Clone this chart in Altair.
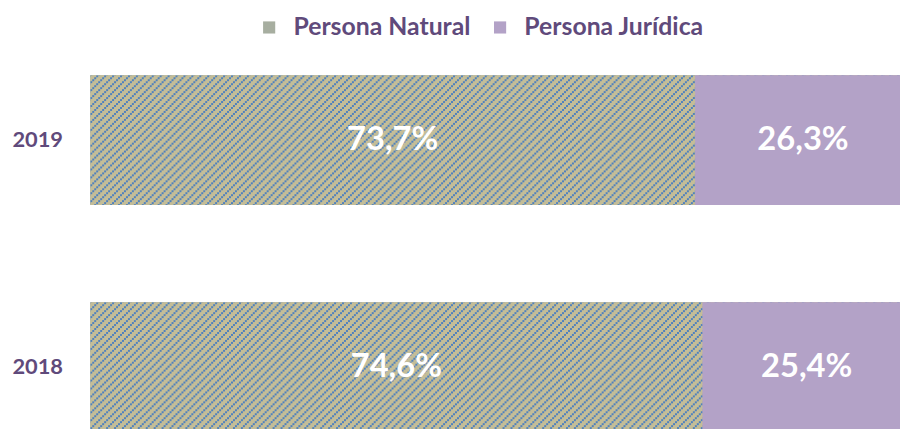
import base64
import altair as alt
import pandas as pd

years = ["2019", "2018"]
categories = ["Persona Natural", "Persona Jurídica"]
natural = [73.7, 74.6]
juridica = [26.3, 25.4]
natural_labels = ["73,7%", "74,6%"]
juridica_labels = ["26,3%", "25,4%"]

TAN = "#C4BD97"
BLUE = "#4F81BD"
MIX = "#A7AEA0"
PURPLE = "#B3A2C7"
TEXT = "#604A7B"
FONT = "Lato"

rows = []
for y, n, j, nl, jl in zip(years, natural, juridica, natural_labels, juridica_labels):
    rows.append(dict(year=y, tipo=categories[0], start=0.0, end=n, total=n + j, mid=n / 2, label=nl))
    rows.append(dict(year=y, tipo=categories[1], start=n, end=n + j, total=n + j, mid=n + j / 2, label=jl))
df = pd.DataFrame(rows)

# diagonal hatch texture (styling only) as an SVG pattern image
TILE, CELL = 8, 2
cells = "".join(
    f'<rect x="{(TILE - CELL) - i * CELL}" y="{i * CELL}" width="{CELL}" height="{CELL}" fill="{BLUE}"/>'
    for i in range(TILE // CELL)
)
pattern_svg = (
    '<svg xmlns="http://www.w3.org/2000/svg" width="828" height="131" shape-rendering="crispEdges">'
    f'<defs><pattern id="h" width="{TILE}" height="{TILE}" patternUnits="userSpaceOnUse">'
    f'<rect width="{TILE}" height="{TILE}" fill="{TAN}"/>' + cells +
    '</pattern></defs><rect width="828" height="131" fill="url(#h)"/></svg>'
)
hatch_url = "data:image/svg+xml;base64," + base64.b64encode(pattern_svg.encode()).decode()

yenc = alt.Y(
    "year:N",
    sort=years,
    scale=alt.Scale(range=[66, 426], paddingInner=98 / 229, paddingOuter=0),
    axis=alt.Axis(
        title=None, domain=False, ticks=False, grid=False, labelPadding=28,
        labelFont=FONT, labelFontSize=22, labelFontWeight="bold", labelColor=TEXT,
    ),
)
xscale = alt.Scale(domain=[0, 100], range=[0, 828])

base = alt.Chart(df).mark_bar().encode(
    y=yenc,
    x=alt.X("start:Q", scale=xscale, axis=None),
    x2="end:Q",
    color=alt.Color(
        "tipo:N",
        scale=alt.Scale(domain=categories, range=[MIX, PURPLE]),
        legend=alt.Legend(
            title=None, orient="none", legendX=168, legendY=5, direction="horizontal",
            labelFont=FONT, labelFontSize=25, labelFontWeight="bold", labelColor=TEXT,
            labelLimit=400, symbolType="square", symbolSize=150, symbolStrokeWidth=0,
            columnPadding=17, labelOffset=12,
        ),
    ),
)

hatched = alt.Chart(df).transform_filter(
    alt.datum.tipo == categories[0]
).mark_image(url=hatch_url, aspect=False).encode(
    y=yenc,
    x=alt.X("start:Q", scale=xscale, axis=None),
    x2="total:Q",
)

juridica_bars = alt.Chart(df).transform_filter(
    alt.datum.tipo == categories[1]
).mark_bar(color=PURPLE).encode(
    y=yenc,
    x=alt.X("start:Q", scale=xscale, axis=None),
    x2="end:Q",
)

labels = alt.Chart(df).mark_text(
    color="white", font=FONT, fontSize=33, fontWeight="bold", baseline="middle", align="center"
).encode(
    y=yenc,
    x=alt.X("mid:Q", scale=xscale, axis=None),
    text="label:N",
)

chart = alt.layer(base, hatched, juridica_bars, labels).properties(
    width=817,
    height=421,
    padding={"left": 83, "top": 0, "right": 0, "bottom": 0},
    autosize=alt.AutoSizeParams(type="none"),
).configure_view(stroke=None)

chart.save("out.html", embed_options={"renderer": "svg", "actions": False})
